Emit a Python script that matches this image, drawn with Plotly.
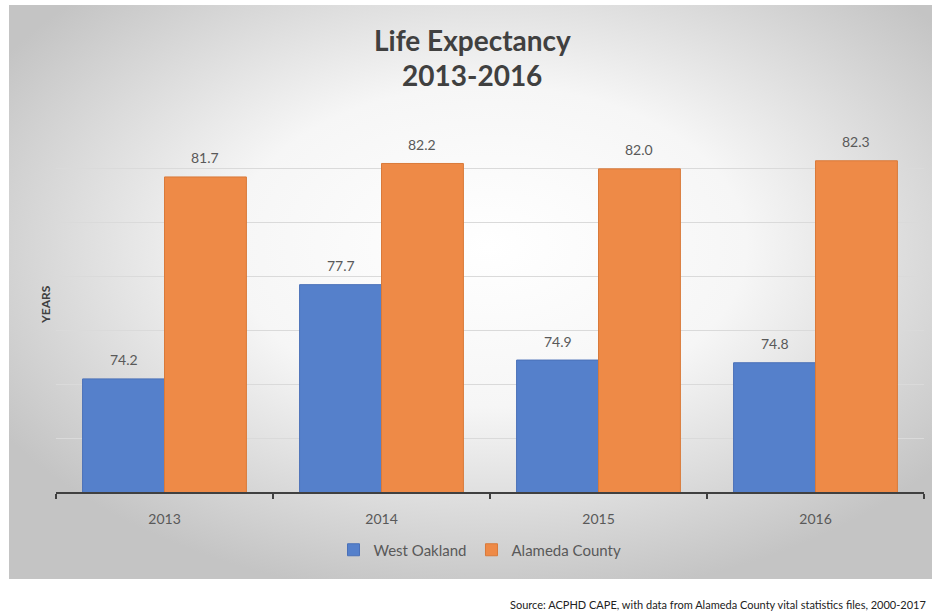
import plotly.graph_objects as go

# Life expectancy by year (years)
years = ["2013", "2014", "2015", "2016"]
west_oakland = [74.2, 77.7, 74.9, 74.8]
alameda_county = [81.7, 82.2, 82.0, 82.3]

series_names = ["West Oakland", "Alameda County"]
series_colors = ["#5580cb", "#ee8a47"]
series_edges = ["#4a70b8", "#d97a3a"]

W, H = 932, 614
L, R, T, B = 56, 8, 115, 122
plot_w = W - L - R
plot_h = H - T - B
BARGAP = 0.245

font_family = "Lato, 'Open Sans', sans-serif"

fig = go.Figure()
for name, vals, col, edge in zip(series_names, [west_oakland, alameda_county],
                                 series_colors, series_edges):
    fig.add_trace(go.Bar(
        x=years, y=vals, name=name,
        marker=dict(color=col, line=dict(color=edge, width=1)),
        hoverinfo="x+y",
    ))

# value labels above each bar (category index + offset within the group)
bar_w = (1 - BARGAP) / 2
for i, vals in enumerate([west_oakland, alameda_county]):
    off = (i - 0.5) * bar_w
    for k, v in enumerate(vals):
        fig.add_annotation(
            x=k + off, y=v, text=f"{v:.1f}", showarrow=False,
            yshift=19, xanchor="center", yanchor="middle",
            font=dict(family=font_family, size=14, color="#595959"),
        )

# gradient backdrop for the chart frame
svg = (
    "data:image/svg+xml;utf8,"
    "<svg xmlns='http://www.w3.org/2000/svg' width='923' height='574' "
    "preserveAspectRatio='none' viewBox='0 0 923 574'>"
    "<defs><radialGradient id='g' cx='52%' cy='42%' r='62%'>"
    "<stop offset='0' stop-color='%23ffffff'/>"
    "<stop offset='0.45' stop-color='%23f6f6f6'/>"
    "<stop offset='1' stop-color='%23c4c4c4'/>"
    "</radialGradient></defs>"
    "<rect width='923' height='574' fill='url(%23g)'/></svg>"
)
fx0, fx1, fy0, fy1 = 9, 932, 5, 579
fig.add_layout_image(
    source=svg, xref="paper", yref="paper",
    x=(fx0 - L) / plot_w, y=(H - B - fy0) / plot_h,
    sizex=(fx1 - fx0) / plot_w, sizey=(fy1 - fy0) / plot_h,
    xanchor="left", yanchor="top", sizing="stretch", layer="below",
)

def px_x(p):
    return (p - L) / plot_w

def px_y(p):
    return (H - B - p) / plot_h

# title lines
fig.add_annotation(x=px_x(472), y=px_y(40), xref="paper", yref="paper",
                   text="<b>Life Expectancy</b>", showarrow=False,
                   yanchor="middle",
                   font=dict(family=font_family, size=28, color="#404040"))
fig.add_annotation(x=px_x(472), y=px_y(75), xref="paper", yref="paper",
                   text="<b>2013-2016</b>", showarrow=False,
                   yanchor="middle",
                   font=dict(family=font_family, size=28, color="#404040"))

# axis title
fig.add_annotation(x=px_x(45), y=px_y(305), xref="paper", yref="paper",
                   text="<b>YEARS</b>", showarrow=False, textangle=-90,
                   xanchor="center", yanchor="middle",
                   font=dict(family=font_family, size=12, color="#404040"))

# source note
fig.add_annotation(x=px_x(928), y=px_y(604), xref="paper", yref="paper",
                   xanchor="right", yanchor="middle",
                   text="Source: ACPHD CAPE, with data from Alameda County vital statistics files, 2000-2017",
                   showarrow=False,
                   font=dict(family=font_family, size=11, color="#222222"))

fig.update_layout(
    width=W, height=H,
    margin=dict(l=L, r=R, t=T, b=B, pad=0),
    paper_bgcolor="white", plot_bgcolor="rgba(0,0,0,0)",
    barmode="group", bargap=BARGAP, bargroupgap=0,
    font=dict(family=font_family, color="#595959"),
    showlegend=True,
    legend=dict(orientation="h", x=px_x(480), y=px_y(550),
                xanchor="center", yanchor="middle",
                bgcolor="rgba(0,0,0,0)",
                font=dict(family=font_family, size=15, color="#595959"),
                itemwidth=30, traceorder="normal"),
)
fig.update_xaxes(
    type="category", range=[-0.5, len(years) - 0.5],
    showgrid=False, showline=True, linecolor="#404040",
    linewidth=2, ticks="outside", tickson="boundaries", ticklen=5,
    tickcolor="#404040", tickwidth=2,
    tickfont=dict(family=font_family, size=14, color="#595959"),
    ticklabelstandoff=13,
)
fig.update_yaxes(
    range=[70, 84], dtick=2, showticklabels=False, showgrid=True,
    gridcolor="#dadada", gridwidth=1, zeroline=False, showline=False,
)

fig.write_html("out.html")
